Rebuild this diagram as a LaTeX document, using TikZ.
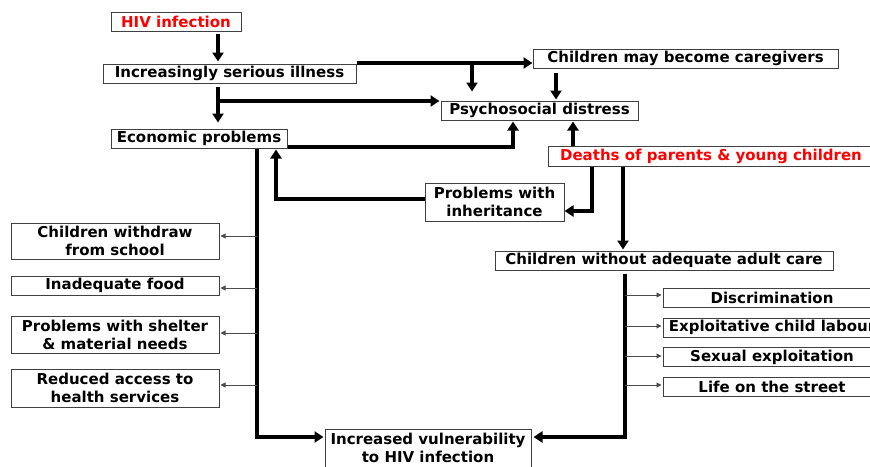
\documentclass[tikz,border=0pt]{standalone}
\usepackage{fontspec}
\setmainfont{DejaVu Sans}
\usetikzlibrary{arrows.meta}

\begin{document}
\begin{tikzpicture}[x=1pt,y=-1pt,font=\fontsize{15}{18}\selectfont\bfseries,
  >={Triangle[length=9pt,width=11pt]},
  box/.style={draw=black!75,line width=1pt,fill=white,inner sep=0pt,align=center,minimum height=19pt},
  hot/.style={text=red},
  flow/.style={->,line width=3.5pt},
  side/.style={-{Triangle[length=5pt,width=5pt]},line width=0.9pt,draw=black!70,shorten >=1pt}]
\useasboundingbox (0,0) rectangle (870,466);
% the chain from infection to distress
\node[box,hot,minimum width=130pt] (hiv) at (176,21.5) {HIV infection};
\node[box,minimum width=253pt] (ill) at (229.5,73.5) {Increasingly serious illness};
\node[box,minimum width=176pt] (eco) at (199,138.5) {Economic problems};
\node[box,minimum width=305pt] (care) at (685.5,58.5) {Children may become caregivers};
\node[box,minimum width=197pt] (psy) at (539.5,110.5) {Psychosocial distress};
\node[box,hot,minimum width=326pt,minimum height=20pt] (death) at (711,156) {Deaths of parents \& young children};
\node[box,minimum width=139pt,minimum height=38pt] (inh) at (494.5,202) {Problems with\\inheritance};
\node[box,minimum width=338pt] (cwac) at (664,260.5) {Children without adequate adult care};
% consequences of economic problems
\node[box,minimum width=208pt,minimum height=36pt] (school) at (115,241) {Children withdraw\\from school};
\node[box,minimum width=208pt] (food) at (115,285.5) {Inadequate food};
\node[box,minimum width=208pt,minimum height=37pt] (shelter) at (115,334.5) {Problems with shelter\\\& material needs};
\node[box,minimum width=208pt,minimum height=38pt] (health) at (115,388) {Reduced access to\\health services};
% consequences of missing adult care
\node[box,minimum width=218pt] (disc) at (772,297.5) {Discrimination};
\node[box,minimum width=218pt] (expl) at (772,327.5) {Exploitative child labour};
\node[box,minimum width=218pt] (sex) at (772,357) {Sexual exploitation};
\node[box,minimum width=218pt] (life) at (772,387) {Life on the street};
\node[box,minimum width=206pt,minimum height=38pt] (vuln) at (428,448) {Increased vulnerability\\to HIV infection};
% thick connectors
\draw[flow,shorten <=2pt,shorten >=2pt] (hiv.south -| 218,0) -- (ill.north -| 218,0);
\draw[flow,shorten <=3pt,shorten >=6pt] (ill.south -| 218,0) -- (eco.north -| 218,0);
\coordinate (j1) at (218,101);
\draw[flow,shorten >=1pt] (j1) -- (j1 -| psy.west);
\draw[flow] ([yshift=0.5pt]ill.north east) -- ([yshift=0.5pt]ill.north east -| care.west);
\draw[flow,shorten >=9pt] (ill.north east -| 472,0) -- (psy.north -| 472,0);
\draw[flow,shorten <=4pt,shorten >=1pt] (care.south -| 556,0) -- (psy.north -| 556,0);
\draw[flow,shorten >=1pt] ([yshift=1.5pt]eco.south east) -| (psy.south -| 513,0);
\draw[flow,shorten >=1pt] (death.north -| 573,0) -- (psy.south -| 573,0);
\draw[flow] (death.south -| 592,0) |- ([yshift=-9pt]inh.east);
\draw[flow,shorten >=1pt] ([yshift=3pt]inh.west) -| (eco.south -| 276,0);
\draw[flow,shorten >=1pt] (death.south -| 623,0) -- (cwac.north -| 623,0);
\draw[flow,shorten >=1pt] (eco.south -| 257,0) |- ([yshift=11pt]vuln.west);
\draw[flow,shorten <=3pt,shorten >=2pt] (cwac.south -| 625,0) |- ([yshift=11pt]vuln.east);
% thin branches
\foreach \n/\s in {school/5,food/-2.5,shelter/1.5,health/3} {
  \coordinate (\n-in) at ([yshift=\s pt]\n.east);
  \draw[side] (\n-in -| 257,0) -- (\n-in);
}
\foreach \n/\s in {disc/2.5,expl/1.5,sex/1,life/2} {
  \coordinate (\n-in) at ([yshift=\s pt]\n.west);
  \draw[side] (\n-in -| 625,0) -- (\n-in);
}
\end{tikzpicture}
\end{document}
